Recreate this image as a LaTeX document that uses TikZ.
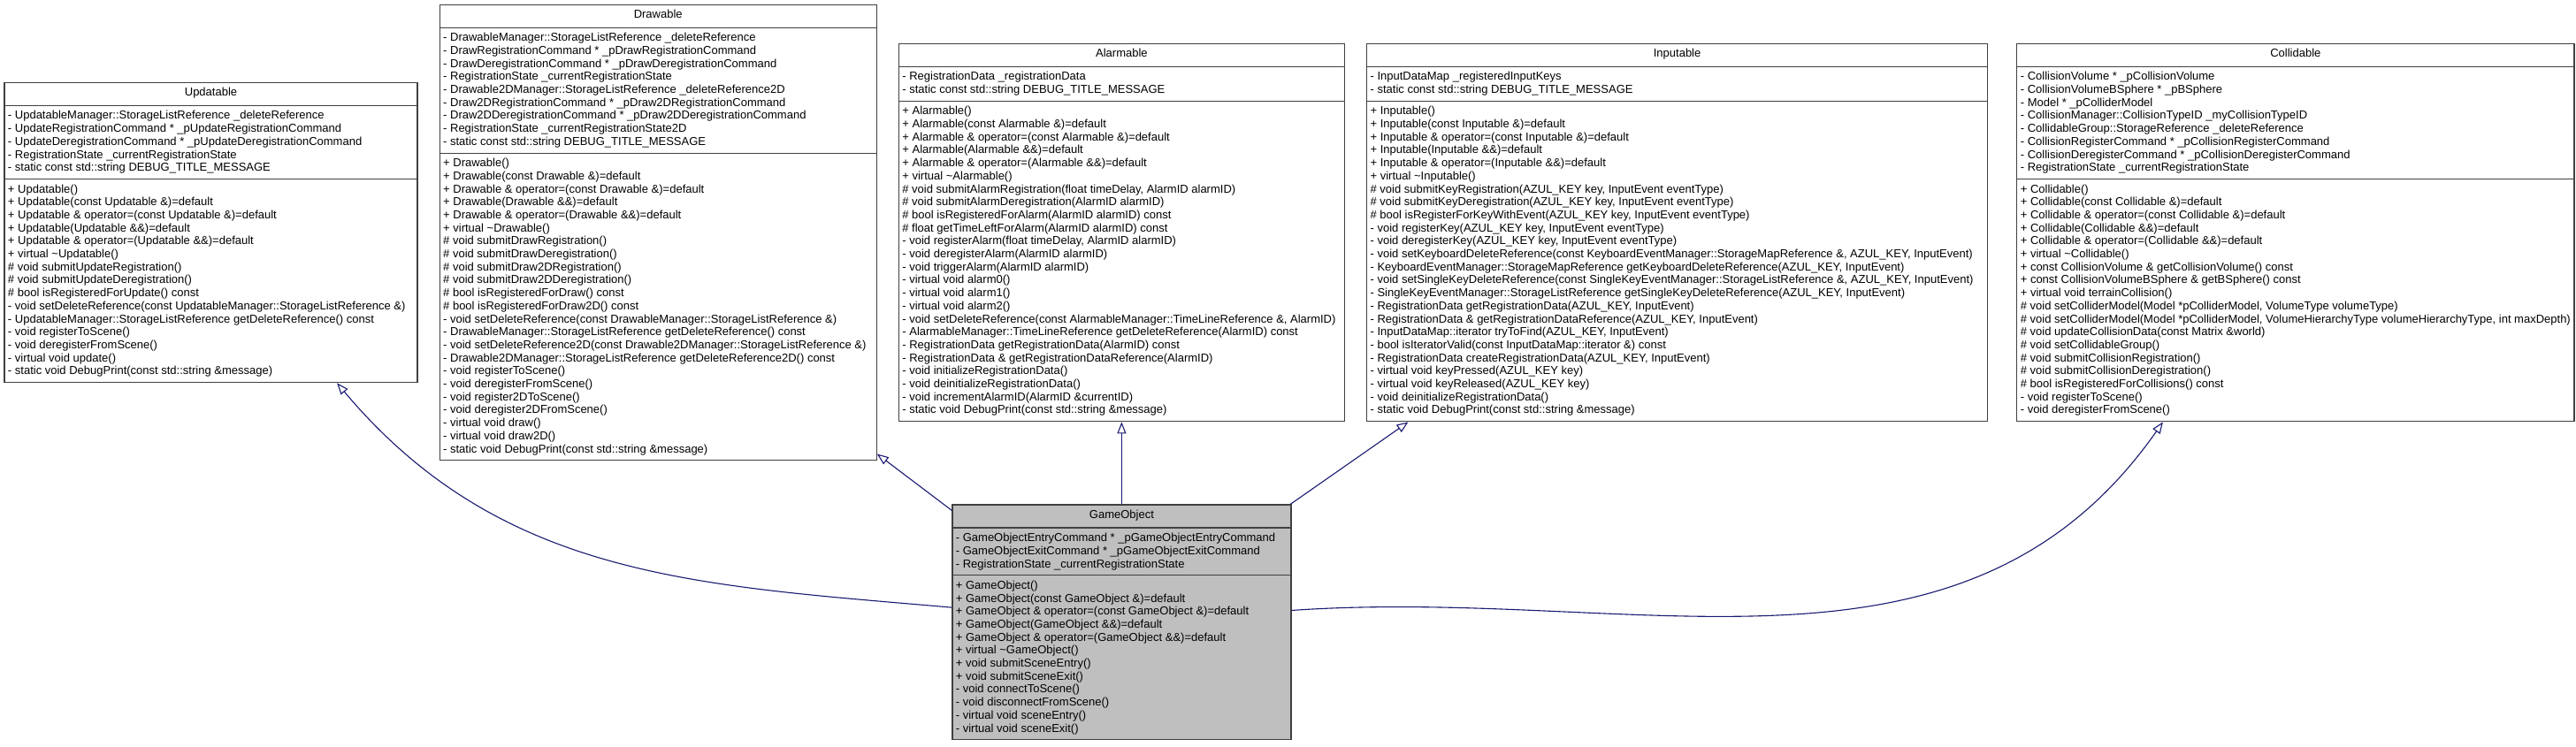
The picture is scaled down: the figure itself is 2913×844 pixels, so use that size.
\documentclass[tikz,border=0pt]{standalone}
\usepackage{fontspec}
\setmainfont{Liberation Sans}
\usetikzlibrary{arrows.meta, positioning, shapes.multipart}
\definecolor{edgeblue}{RGB}{25,25,112}
\definecolor{boxgray}{RGB}{191,191,191}
\newcommand{\cname}[1]{\rule[-4.5pt]{0pt}{13.5pt}#1}

\begin{document}
\begin{tikzpicture}[
        x=1pt, y=1pt,
        node distance=93pt and 24pt, % controls spacing between class boxes
        every node/.style={draw=black!75, line width=1.2pt, rectangle split, rectangle split parts=3,
          rectangle split part align={center,left,left}, align=left,
          inner xsep=4pt, inner ysep=5.5pt, font=\fontsize{13}{14.7}\selectfont},
        inherit/.style={draw=edgeblue, line width=1.1pt, -{Triangle[open, length=13pt, width=10pt]}}
      ]
      \useasboundingbox (0,0) rectangle (2913,844);

      % Nodes
      \node (U) [minimum width=467pt] at (238.5,581) {\cname{Updatable}
        \nodepart{second}
        - UpdatableManager::StorageListReference \_deleteReference\\
        - UpdateRegistrationCommand * \_pUpdateRegistrationCommand\\
        - UpdateDeregistrationCommand * \_pUpdateDeregistrationCommand\\
        - RegistrationState \_currentRegistrationState\\
        - static const std::string DEBUG\_TITLE\_MESSAGE
        \nodepart{third}
        + Updatable()\\
        + Updatable(const Updatable \&)=default\\
        + Updatable \& operator=(const Updatable \&)=default\\
        + Updatable(Updatable \&\&)=default\\
        + Updatable \& operator=(Updatable \&\&)=default\\
        + virtual \textasciitilde Updatable()\\
        \# void submitUpdateRegistration()\\
        \# void submitUpdateDeregistration()\\
        \# bool isRegisteredForUpdate() const\\
        - void setDeleteReference(const UpdatableManager::StorageListReference \&)\\
        - UpdatableManager::StorageListReference getDeleteReference() const\\
        - void registerToScene()\\
        - void deregisterFromScene()\\
        - virtual void update()\\
        - static void DebugPrint(const std::string \&message)};

      \node (D) [minimum width=494pt, right=24pt of U] {\cname{Drawable}
        \nodepart{second}
        - DrawableManager::StorageListReference \_deleteReference\\
        - DrawRegistrationCommand * \_pDrawRegistrationCommand\\
        - DrawDeregistrationCommand * \_pDrawDeregistrationCommand\\
        - RegistrationState \_currentRegistrationState\\
        - Drawable2DManager::StorageListReference \_deleteReference2D\\
        - Draw2DRegistrationCommand * \_pDraw2DRegistrationCommand\\
        - Draw2DDeregistrationCommand * \_pDraw2DDeregistrationCommand\\
        - RegistrationState \_currentRegistrationState2D\\
        - static const std::string DEBUG\_TITLE\_MESSAGE
        \nodepart{third}
        + Drawable()\\
        + Drawable(const Drawable \&)=default\\
        + Drawable \& operator=(const Drawable \&)=default\\
        + Drawable(Drawable \&\&)=default\\
        + Drawable \& operator=(Drawable \&\&)=default\\
        + virtual \textasciitilde Drawable()\\
        \# void submitDrawRegistration()\\
        \# void submitDrawDeregistration()\\
        \# void submitDraw2DRegistration()\\
        \# void submitDraw2DDeregistration()\\
        \# bool isRegisteredForDraw() const\\
        \# bool isRegisteredForDraw2D() const\\
        - void setDeleteReference(const DrawableManager::StorageListReference \&)\\
        - DrawableManager::StorageListReference getDeleteReference() const\\
        - void setDeleteReference2D(const Drawable2DManager::StorageListReference \&)\\
        - Drawable2DManager::StorageListReference getDeleteReference2D() const\\
        - void registerToScene()\\
        - void deregisterFromScene()\\
        - void register2DToScene()\\
        - void deregister2DFromScene()\\
        - virtual void draw()\\
        - virtual void draw2D()\\
        - static void DebugPrint(const std::string \&message)};

      \node (A) [minimum width=504pt, right=24pt of D] {\cname{Alarmable}
        \nodepart{second}
        - RegistrationData \_registrationData\\
        - static const std::string DEBUG\_TITLE\_MESSAGE
        \nodepart{third}
        + Alarmable()\\
        + Alarmable(const Alarmable \&)=default\\
        + Alarmable \& operator=(const Alarmable \&)=default\\
        + Alarmable(Alarmable \&\&)=default\\
        + Alarmable \& operator=(Alarmable \&\&)=default\\
        + virtual \textasciitilde Alarmable()\\
        \# void submitAlarmRegistration(float timeDelay, AlarmID alarmID)\\
        \# void submitAlarmDeregistration(AlarmID alarmID)\\
        \# bool isRegisteredForAlarm(AlarmID alarmID) const\\
        \# float getTimeLeftForAlarm(AlarmID alarmID) const\\
        - void registerAlarm(float timeDelay, AlarmID alarmID)\\
        - void deregisterAlarm(AlarmID alarmID)\\
        - void triggerAlarm(AlarmID alarmID)\\
        - virtual void alarm0()\\
        - virtual void alarm1()\\
        - virtual void alarm2()\\
        - void setDeleteReference(const AlarmableManager::TimeLineReference \&, AlarmID)\\
        - AlarmableManager::TimeLineReference getDeleteReference(AlarmID) const\\
        - RegistrationData getRegistrationData(AlarmID) const\\
        - RegistrationData \& getRegistrationDataReference(AlarmID)\\
        - void initializeRegistrationData()\\
        - void deinitializeRegistrationData()\\
        - void incrementAlarmID(AlarmID \&currentID)\\
        - static void DebugPrint(const std::string \&message)};

      \node (I) [minimum width=702pt, right=24pt of A] {\cname{Inputable}
        \nodepart{second}
        - InputDataMap \_registeredInputKeys\\
        - static const std::string DEBUG\_TITLE\_MESSAGE
        \nodepart{third}
        + Inputable()\\
        + Inputable(const Inputable \&)=default\\
        + Inputable \& operator=(const Inputable \&)=default\\
        + Inputable(Inputable \&\&)=default\\
        + Inputable \& operator=(Inputable \&\&)=default\\
        + virtual \textasciitilde Inputable()\\
        \# void submitKeyRegistration(AZUL\_KEY key, InputEvent eventType)\\
        \# void submitKeyDeregistration(AZUL\_KEY key, InputEvent eventType)\\
        \# bool isRegisterForKeyWithEvent(AZUL\_KEY key, InputEvent eventType)\\
        - void registerKey(AZUL\_KEY key, InputEvent eventType)\\
        - void deregisterKey(AZUL\_KEY key, InputEvent eventType)\\
        - void setKeyboardDeleteReference(const KeyboardEventManager::StorageMapReference \&, AZUL\_KEY, InputEvent)\\
        - KeyboardEventManager::StorageMapReference getKeyboardDeleteReference(AZUL\_KEY, InputEvent)\\
        - void setSingleKeyDeleteReference(const SingleKeyEventManager::StorageListReference \&, AZUL\_KEY, InputEvent)\\
        - SingleKeyEventManager::StorageListReference getSingleKeyDeleteReference(AZUL\_KEY, InputEvent)\\
        - RegistrationData getRegistrationData(AZUL\_KEY, InputEvent)\\
        - RegistrationData \& getRegistrationDataReference(AZUL\_KEY, InputEvent)\\
        - InputDataMap::iterator tryToFind(AZUL\_KEY, InputEvent)\\
        - bool isIteratorValid(const InputDataMap::iterator \&) const\\
        - RegistrationData createRegistrationData(AZUL\_KEY, InputEvent)\\
        - virtual void keyPressed(AZUL\_KEY key)\\
        - virtual void keyReleased(AZUL\_KEY key)\\
        - void deinitializeRegistrationData()\\
        - static void DebugPrint(const std::string \&message)};

      \node (C) [minimum width=627pt, right=32pt of I] {\cname{Collidable}
        \nodepart{second}
        - CollisionVolume * \_pCollisionVolume\\
        - CollisionVolumeBSphere * \_pBSphere\\
        - Model * \_pColliderModel\\
        - CollisionManager::CollisionTypeID \_myCollisionTypeID\\
        - CollidableGroup::StorageReference \_deleteReference\\
        - CollisionRegisterCommand * \_pCollisionRegisterCommand\\
        - CollisionDeregisterCommand * \_pCollisionDeregisterCommand\\
        - RegistrationState \_currentRegistrationState
        \nodepart{third}
        + Collidable()\\
        + Collidable(const Collidable \&)=default\\
        + Collidable \& operator=(const Collidable \&)=default\\
        + Collidable(Collidable \&\&)=default\\
        + Collidable \& operator=(Collidable \&\&)=default\\
        + virtual \textasciitilde Collidable()\\
        + const CollisionVolume \& getCollisionVolume() const\\
        + const CollisionVolumeBSphere \& getBSphere() const\\
        + virtual void terrainCollision()\\
        \# void setColliderModel(Model *pColliderModel, VolumeType volumeType)\\
        \# void setColliderModel(Model *pColliderModel, VolumeHierarchyType volumeHierarchyType, int maxDepth)\\
        \# void updateCollisionData(const Matrix \&world)\\
        \# void setCollidableGroup()\\
        \# void submitCollisionRegistration()\\
        \# void submitCollisionDeregistration()\\
        \# bool isRegisteredForCollisions() const\\
        - void registerToScene()\\
        - void deregisterFromScene()};

      \node (G) [minimum width=383pt, fill=boxgray, below=93pt of A] {\cname{GameObject}
        \nodepart{second}
        - GameObjectEntryCommand * \_pGameObjectEntryCommand\\
        - GameObjectExitCommand * \_pGameObjectExitCommand\\
        - RegistrationState \_currentRegistrationState
        \nodepart{third}
        + GameObject()\\
        + GameObject(const GameObject \&)=default\\
        + GameObject \& operator=(const GameObject \&)=default\\
        + GameObject(GameObject \&\&)=default\\
        + GameObject \& operator=(GameObject \&\&)=default\\
        + virtual \textasciitilde GameObject()\\
        + void submitSceneEntry()\\
        + void submitSceneExit()\\
        - void connectToScene()\\
        - void disconnectFromScene()\\
        - virtual void sceneEntry()\\
        - virtual void sceneExit()};

      % Arrows
      \draw[inherit] (G) to[out=175, in=-50] (U);
      \draw[inherit] ([yshift=-7pt]G.north west) -- ([yshift=8pt]D.south east);
      \draw[inherit] (G) -- (A);
      \draw[inherit] (G) -- (I);
      \draw[inherit] (G) to[out=4, in=-125] (C);

    \end{tikzpicture}
\end{document}
